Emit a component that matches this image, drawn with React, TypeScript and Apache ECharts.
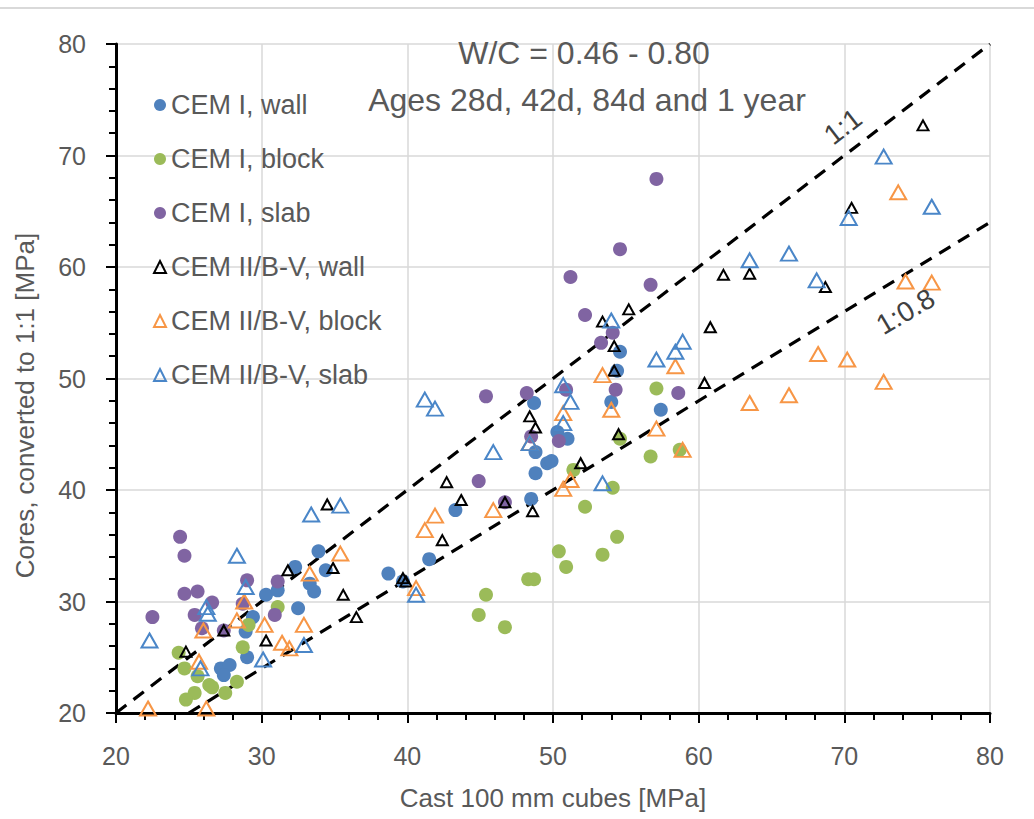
import React, { useEffect, useRef } from "react";
import * as echarts from "echarts";

const FONT = "'Liberation Sans', Arial, sans-serif";
const TEXT_GREY = "#595959";

// Axis settings
const AXIS_MIN = 20;
const AXIS_MAX = 80;
const AXIS_STEP = 10;

// Series names (legend)
const seriesNames = [
  "CEM I, wall",
  "CEM I, block",
  "CEM I, slab",
  "CEM II/B-V, wall",
  "CEM II/B-V, block",
  "CEM II/B-V, slab",
];

// [cast cube MPa, core MPa]
const cem1Wall = [
  [57.4, 47.2], [54.6, 52.4], [54.4, 50.7], [54.0, 47.9], [48.7, 47.8], [48.8, 43.4],
  [49.6, 42.4], [49.9, 42.6], [48.8, 41.5], [50.3, 45.2], [51.0, 44.6], [48.5, 39.2],
  [43.3, 38.2], [41.5, 33.8], [38.7, 32.5], [33.9, 34.5], [34.4, 32.8], [33.3, 31.6],
  [33.6, 30.9], [39.7, 31.8], [32.3, 33.1], [30.3, 30.6], [31.1, 31.0], [32.5, 29.4],
  [29.4, 28.6], [28.9, 27.3], [29.0, 25.0], [27.2, 24.0], [27.8, 24.3], [27.4, 23.4],
];

const cem1Block = [
  [57.1, 49.1], [56.7, 43.0], [58.7, 43.6], [54.6, 44.6], [54.1, 40.2], [54.4, 35.8],
  [53.4, 34.2], [51.4, 41.8], [52.2, 38.5], [50.4, 34.5], [50.9, 33.1], [48.3, 32.0],
  [48.7, 32.0], [45.4, 30.6], [44.9, 28.8], [46.7, 27.7], [31.1, 29.5], [29.1, 27.9],
  [28.7, 25.9], [24.3, 25.4], [24.7, 24.0], [25.6, 23.3], [26.4, 22.5], [26.6, 22.3],
  [25.4, 21.8], [24.8, 21.2], [27.5, 21.8], [28.3, 22.8],
];

const cem1Slab = [
  [57.1, 67.9], [54.6, 61.6], [51.2, 59.1], [56.7, 58.4], [52.2, 55.7], [54.1, 54.1],
  [53.3, 53.2], [54.3, 49.0], [50.9, 49.0], [48.2, 48.7], [45.4, 48.4], [58.6, 48.7],
  [50.4, 44.4], [48.5, 44.8], [44.9, 40.8], [46.7, 38.9], [24.4, 35.8], [24.7, 34.1],
  [24.7, 30.7], [25.6, 30.9], [22.5, 28.6], [25.4, 28.8], [25.9, 27.6], [26.6, 29.9],
  [29.0, 31.9], [28.7, 29.8], [30.9, 28.8], [31.1, 31.8], [27.4, 27.4],
];

const cem2Wall = [
  [75.4, 72.7], [70.5, 65.3], [61.7, 59.3], [63.5, 59.4], [68.7, 58.2], [60.8, 54.6],
  [60.4, 49.6], [55.2, 56.2], [53.4, 55.1], [54.2, 52.9], [54.2, 50.7], [48.4, 46.6],
  [48.8, 45.6], [54.5, 45.0], [51.9, 42.4], [42.7, 40.7], [43.7, 39.1], [46.7, 38.9],
  [48.6, 38.1], [42.4, 35.5], [34.5, 38.7], [34.9, 33.0], [39.7, 32.1], [39.9, 31.8],
  [35.6, 30.6], [36.5, 28.6], [31.8, 32.8], [27.4, 27.4], [30.3, 26.5], [24.8, 25.5],
];

const cem2Block = [
  [73.7, 66.7], [74.2, 58.7], [76.0, 58.6], [68.2, 52.2], [70.2, 51.7], [72.7, 49.7],
  [66.2, 48.5], [63.5, 47.8], [58.4, 51.1], [57.1, 45.5], [58.9, 43.6], [53.4, 50.3],
  [54.0, 47.2], [50.7, 46.9], [48.4, 44.2], [51.2, 40.9], [50.7, 40.1], [45.9, 38.2],
  [41.9, 37.7], [41.2, 36.4], [35.4, 34.3], [33.3, 32.5], [40.6, 31.2], [32.9, 27.9],
  [31.9, 25.8], [28.8, 30.0], [28.3, 28.3], [30.2, 27.9], [26.0, 27.4], [31.4, 26.3],
  [25.7, 24.6], [22.2, 20.4], [26.2, 20.4],
];

const cem2Slab = [
  [72.7, 69.9], [76.0, 65.4], [70.3, 64.4], [63.5, 60.6], [66.2, 61.2], [68.1, 58.8],
  [57.1, 51.7], [58.4, 52.4], [58.9, 53.3], [54.0, 55.2], [50.7, 49.4], [51.2, 47.9],
  [50.7, 46.0], [48.4, 44.2], [45.9, 43.4], [53.4, 40.6], [41.2, 48.1], [41.9, 47.3],
  [33.4, 37.8], [35.4, 38.6], [40.6, 30.6], [32.9, 26.1], [28.3, 34.1], [22.3, 26.5],
  [28.9, 31.3], [26.2, 29.5], [26.3, 28.9], [25.8, 24.0], [30.1, 24.8],
];

// Reference lines
const lineOneToOne = [[20, 20], [80, 80]];
const lineOneToPoint8 = [[25, 20], [80, 64]];
const refLabels = ["1:1", "1:0.8"];
const refLabelAnchors = [[69.9, 72.6], [74.2, 56.0]];
const refLabelAngles = [37.5, 30.5];

const titleLines = ["W/C = 0.46 - 0.80", "Ages 28d, 42d, 84d and 1 year"];

const circle = (color: string) => ({
  type: "scatter",
  symbol: "circle",
  symbolSize: 14,
  itemStyle: { color, opacity: 1 },
});

const hollowTri = (color: string, size: number[], bw: number) => ({
  type: "scatter",
  symbol: "triangle",
  symbolSize: size,
  itemStyle: { color: "rgba(255,255,255,0)", borderColor: color, borderWidth: bw, opacity: 1 },
});

export default function App() {
  const ref = useRef<HTMLDivElement>(null);

  useEffect(() => {
    if (!ref.current) return;
    const chart = echarts.init(ref.current, null, { renderer: "svg" });

    const axisCommon = {
      min: AXIS_MIN,
      max: AXIS_MAX,
      interval: AXIS_STEP,
      axisLine: { show: true, onZero: false, lineStyle: { color: "#000", width: 3 } },
      axisTick: { show: true, inside: false, length: 10, lineStyle: { color: "#000", width: 2 } },
      minorTick: { show: true, splitNumber: 5, length: 7, lineStyle: { color: "#000", width: 2 } },
      splitLine: { show: true, lineStyle: { color: "#d9d9d9", width: 1.5 } },
      axisLabel: { color: TEXT_GREY, fontSize: 25, fontFamily: FONT },
      nameLocation: "middle",
      nameTextStyle: { color: TEXT_GREY, fontSize: 26, fontFamily: FONT },
    };

    const option: any = {
      animation: false,
      backgroundColor: "#fff",
      grid: { left: 116, right: 44, top: 44, bottom: 106, containLabel: false },
      xAxis: {
        ...axisCommon,
        type: "value",
        name: "Cast 100 mm cubes [MPa]",
        nameGap: 72,
        axisLabel: { ...axisCommon.axisLabel, margin: 30 },
      },
      yAxis: {
        ...axisCommon,
        type: "value",
        name: "Cores, converted to 1:1 [MPa]",
        nameGap: 78,
        axisLabel: { ...axisCommon.axisLabel, margin: 30 },
        nameTextStyle: { ...axisCommon.nameTextStyle, padding: [0, 54, 0, 0] },
      },
      legend: {
        data: seriesNames,
        orient: "vertical",
        left: 148,
        top: 86,
        itemWidth: 12,
        itemHeight: 12,
        itemGap: 26,
        textStyle: { color: TEXT_GREY, fontSize: 27, fontFamily: FONT, lineHeight: 28 },
      },
      series: [
        {
          type: "line",
          data: lineOneToOne,
          symbol: "none",
          silent: true,
          lineStyle: { color: "#000", width: 3.2, type: [13, 9] },
          z: 1,
        },
        {
          type: "line",
          data: lineOneToPoint8,
          symbol: "none",
          silent: true,
          lineStyle: { color: "#000", width: 3.2, type: [13, 9] },
          z: 1,
        },
        { ...circle("#4f81bd"), name: seriesNames[0], data: cem1Wall, z: 2 },
        { ...circle("#9bbb59"), name: seriesNames[1], data: cem1Block, z: 2 },
        { ...circle("#8064a2"), name: seriesNames[2], data: cem1Slab, z: 2 },
        { ...hollowTri("#000000", [11, 10], 2), name: seriesNames[3], data: cem2Wall, z: 3 },
        { ...hollowTri("#f79646", [16, 14], 2), name: seriesNames[4], data: cem2Block, z: 3 },
        { ...hollowTri("#4a86c8", [16, 14], 2), name: seriesNames[5], data: cem2Slab, z: 3 },
      ],
    };

    chart.setOption(option);

    const graphics: any[] = [
      {
        type: "rect",
        shape: { x: 0, y: 7, width: 1034, height: 2 },
        style: { fill: "#d9d9d9" },
        silent: true,
      },
      {
        type: "text",
        x: 584,
        y: 53,
        style: {
          text: titleLines[0],
          fontSize: 32,
          fontFamily: FONT,
          fill: TEXT_GREY,
          align: "center",
          verticalAlign: "middle",
        },
        z: 10,
      },
      {
        type: "text",
        x: 587,
        y: 100,
        style: {
          text: titleLines[1],
          fontSize: 32,
          fontFamily: FONT,
          fill: TEXT_GREY,
          align: "center",
          verticalAlign: "middle",
        },
        z: 10,
      },
    ];
    refLabels.forEach((t, i) => {
      const p = chart.convertToPixel({ gridIndex: 0 }, refLabelAnchors[i]) as number[];
      graphics.push({
        type: "text",
        x: p[0],
        y: p[1],
        rotation: (refLabelAngles[i] * Math.PI) / 180,
        style: {
          text: t,
          fontSize: 28,
          fontFamily: FONT,
          fill: "#404040",
          align: "center",
          verticalAlign: "middle",
        },
        z: 10,
      });
    });
    chart.setOption({ graphic: graphics });

    return () => chart.dispose();
  }, []);

  return (
    <div
      ref={ref}
      style={{ position: "absolute", left: 0, top: 0, width: 1034, height: 819, background: "#fff" }}
    />
  );
}
